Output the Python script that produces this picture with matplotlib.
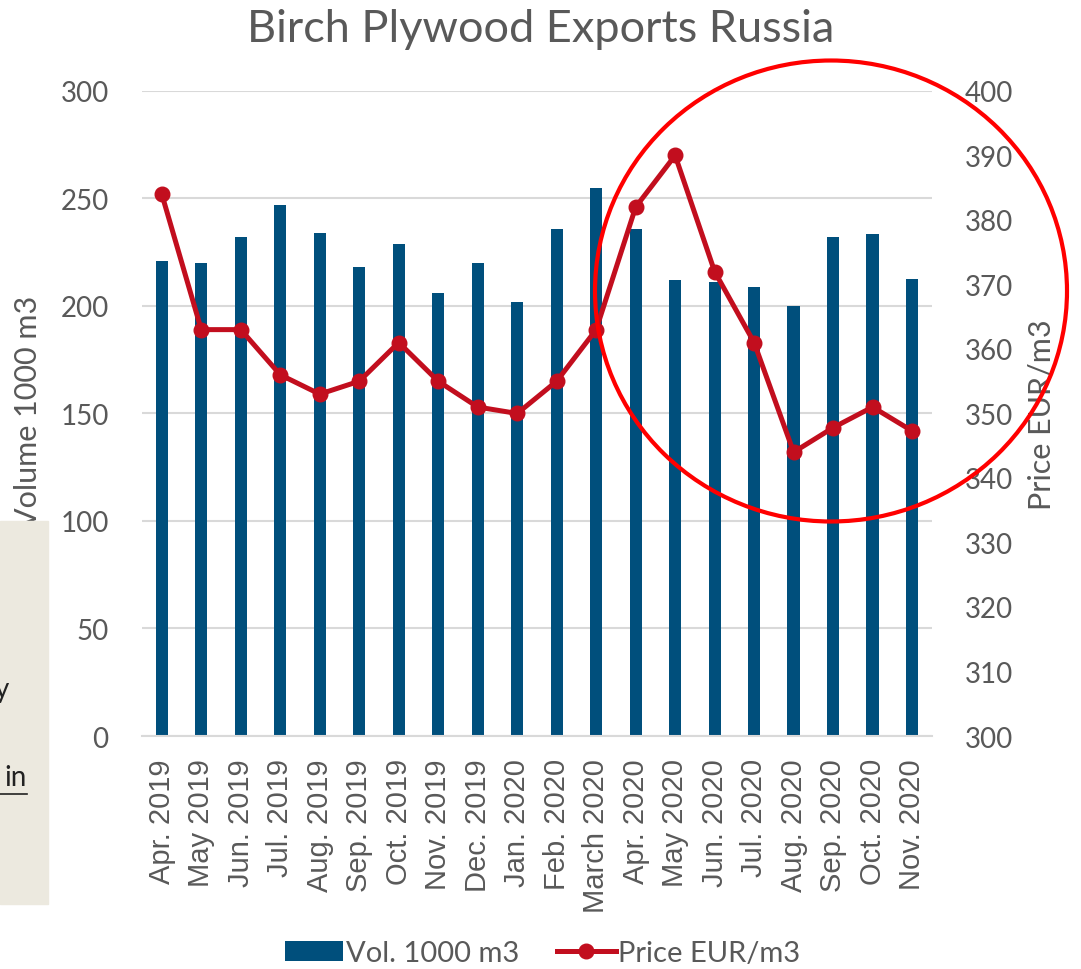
import matplotlib.pyplot as plt
from matplotlib.patches import Ellipse, Rectangle
from matplotlib.lines import Line2D

months = ["Apr. 2019", "May 2019", "Jun. 2019", "Jul. 2019", "Aug. 2019",
          "Sep. 2019", "Oct. 2019", "Nov. 2019", "Dec. 2019", "Jan. 2020",
          "Feb. 2020", "March 2020", "Apr. 2020", "May 2020", "Jun. 2020",
          "Jul. 2020", "Aug. 2020", "Sep. 2020", "Oct. 2020", "Nov. 2020"]
volume = [221, 220, 232, 247, 234, 218, 229, 206, 220, 202,
          236, 255, 236, 212, 211, 209, 200, 232, 233.5, 212.5]
price = [384, 363, 363, 356, 353, 355, 361, 355, 351, 350,
         355, 363, 382, 390, 372, 361, 344, 347.8, 351, 347.3]

BAR = "#004F7C"
LINE = "#C20E1E"
GRID = "#D9D9D9"
TXT = "#595959"
FONT = "Lato"

plt.rcParams['font.family'] = [FONT, 'DejaVu Sans']

fig = plt.figure(figsize=(10.81, 9.70), dpi=100)
ax = fig.add_axes([0.1314, 0.2402, 0.7306, 0.665])
ax2 = ax.twinx()

x = list(range(len(months)))
ax.bar(x, volume, width=0.31, color=BAR, zorder=2, label="Vol. 1000 m3")
ax2.plot(x, price, color=LINE, lw=3.6, marker="o", markersize=10.5,
         zorder=3, label="Price EUR/m3")

ax.set_xlim(-0.5, len(months) - 0.5)
ax.set_ylim(0, 300)
ax.set_yticks(range(0, 301, 50))
ax2.set_ylim(300, 400)
ax2.set_yticks(range(300, 401, 10))

ax.grid(axis="y", color=GRID, lw=1.5, zorder=0)
ax.set_axisbelow(True)
for a in (ax, ax2):
    for s in a.spines.values():
        s.set_visible(False)
ax.spines["bottom"].set_visible(True)
ax.spines["bottom"].set_color(GRID)
ax.spines["bottom"].set_linewidth(1.5)

ax.set_xticks(x)
ax.set_xticklabels(months, rotation=90, fontsize=21, color=TXT,
                   family="Liberation Sans")
ax.tick_params(axis="x", length=0, pad=16)
ax.tick_params(axis="y", length=0, pad=24, labelsize=20, labelcolor=TXT)
ax2.tick_params(axis="y", length=0, pad=24, labelsize=20, labelcolor=TXT)

fig.text(0.5, 0.970, "Birch Plywood Exports Russia", ha="center",
         va="center", fontsize=32.5, color=TXT)
fig.text(28 / 1081, 1 - 412 / 970, "Volume 1000 m3", rotation=90,
         ha="center", va="center", fontsize=22, color=TXT)
fig.text(1042 / 1081, 1 - 415 / 970, "Price EUR/m3", rotation=90,
         ha="center", va="center", fontsize=22, color=TXT)

# slide box peeking in from the left
fig.patches.append(Rectangle((0, 1 - 905 / 970), 48 / 1081, 383 / 970,
                             transform=fig.transFigure, color="#ECE9DF",
                             zorder=5))
fig.text(9 / 1081, 1 - 690 / 970, "y", ha="right", va="center",
         fontsize=20, color="#222222", zorder=6)
fig.text(27 / 1081, 1 - 778 / 970, "in", ha="right", va="center",
         fontsize=20, color="#222222", zorder=6)
fig.lines.append(Line2D([0, 27 / 1081], [1 - 795 / 970, 1 - 795 / 970],
                        transform=fig.transFigure, color="#222222", lw=1.2,
                        zorder=6))

# highlight circle
fig.patches.append(Ellipse((831 / 1081, 1 - 292 / 970), 472 / 1081,
                           461 / 970, transform=fig.transFigure, fill=False,
                           edgecolor="#FF0000", lw=3, zorder=10))

h1, l1 = ax.get_legend_handles_labels()
h2, l2 = ax2.get_legend_handles_labels()
fig.legend(h1 + h2, l1 + l2, loc="lower center", ncol=2, frameon=False,
           bbox_to_anchor=(0.502, -0.024), fontsize=21, labelcolor=TXT,
           handlelength=2.0, handletextpad=0.1, columnspacing=1.3)

fig.savefig("out.png", dpi=100)
